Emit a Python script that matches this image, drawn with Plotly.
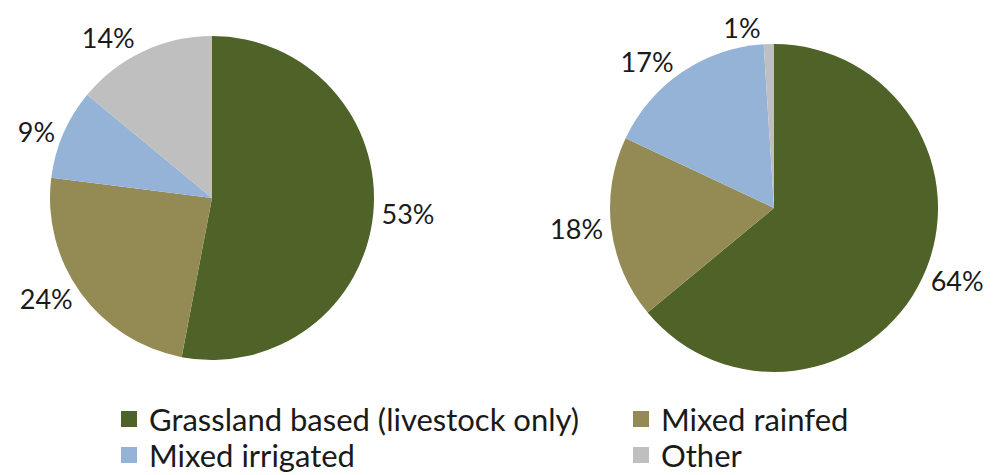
import plotly.graph_objects as go

categories = ["Grassland based (livestock only)", "Mixed rainfed", "Mixed irrigated", "Other"]
left_values = [53, 24, 9, 14]
right_values = [64, 18, 17, 1]
colors = ["#4F6228", "#948A54", "#95B3D7", "#BFBFBF"]

font_family = "Lato, Carlito, Calibri, sans-serif"
W, H = 995, 467  # page body has an 8px default margin
LEG_FONT = 31
PIE_FONT = 27

def dom_x(cx, r):
    return [(cx - r) / W, (cx + r) / W]

def dom_y(cy, r):
    return [1 - (cy + r) / H, 1 - (cy - r) / H]

fig = go.Figure()
fig.add_trace(go.Pie(
    labels=categories, values=left_values, sort=False, direction="clockwise", rotation=0,
    marker=dict(colors=colors, line=dict(width=0)),
    texttemplate="%{value}%", textposition="outside",
    textfont=dict(size=PIE_FONT, color="#1a1a1a", family=font_family),
    domain=dict(x=dom_x(204, 162), y=dom_y(190, 162)),
    showlegend=False, hoverinfo="label+percent",
))
fig.add_trace(go.Pie(
    labels=categories, values=right_values, sort=False, direction="clockwise", rotation=0,
    marker=dict(colors=colors, line=dict(width=0)),
    texttemplate="%{value}%", textposition="outside",
    textfont=dict(size=PIE_FONT, color="#1a1a1a", family=font_family),
    domain=dict(x=dom_x(766, 164), y=dom_y(200, 164)),
    showlegend=False, hoverinfo="label+percent",
))

# legend entries (shared by both pies), laid out as a 2x2 grid
legend_ids = ["legend", "legend2", "legend3", "legend4"]
for name, col, lg in zip(categories, colors, legend_ids):
    fig.add_trace(go.Scatter(
        x=[None], y=[None], mode="markers", name=name, legend=lg,
        marker=dict(symbol="square", size=16, color=col, line=dict(width=0)),
        showlegend=True, hoverinfo="skip",
    ))

item_h = LEG_FONT * 1.3 + 3
def leg(x_px, center_px):
    top = center_px - 5 - item_h / 2
    return dict(orientation="v", xanchor="left", yanchor="top",
                x=x_px / W, y=1 - top / H,
                itemwidth=30, tracegroupgap=0, bgcolor="rgba(0,0,0,0)",
                font=dict(size=LEG_FONT, family=font_family, color="#1a1a1a"))

fig.update_layout(
    width=W, height=H,
    margin=dict(l=0, r=0, t=0, b=0, autoexpand=False),
    paper_bgcolor="white", plot_bgcolor="white",
    font=dict(family=font_family, size=PIE_FONT, color="#1a1a1a"),
    xaxis=dict(visible=False), yaxis=dict(visible=False),
    legend=leg(101, 411),
    legend2=leg(613, 411),
    legend3=leg(101, 447),
    legend4=leg(613, 447),
)
fig.write_html("out.html")
